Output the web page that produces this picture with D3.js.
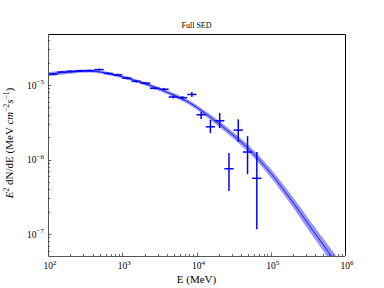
<!DOCTYPE html>
<html>
<head>
<meta charset="utf-8">
<script src="https://cdn.jsdelivr.net/npm/d3@7"></script>
<style>
  body { margin: 0; background: #fff; }
  svg { display: block; }
  text { font-family: "Liberation Serif", "DejaVu Serif", serif; fill: #000; }
</style>
</head>
<body>
<svg id="chart"></svg>
<script>
// SED points (MeV, MeV cm-2 s-1)
const binCenters = [115.5, 154, 205, 274, 365, 487, 649, 866, 1155, 1540, 2054, 2738, 3652, 4870, 6494, 8660, 11548, 15399, 20535, 27384, 36517, 48697, 64938];
const binLow = [100, 133.4, 177.8, 237.1, 316.2, 421.7, 562.3, 749.9, 1000, 1334, 1778, 2371, 3162, 4217, 5623, 7499, 10000, 13335, 17783, 23714, 31623, 42170, 56234];
const binHigh = [133.4, 177.8, 237.1, 316.2, 421.7, 562.3, 749.9, 1000, 1334, 1778, 2371, 3162, 4217, 5623, 7499, 10000, 13335, 17783, 23714, 31623, 42170, 56234, 74989];
const flux = [1.40e-5, 1.49e-5, 1.52e-5, 1.55e-5, 1.56e-5, 1.61e-5, 1.43e-5, 1.37e-5, 1.24e-5, 1.12e-5, 1.06e-5, 9.05e-6, 8.78e-6, 6.91e-6, 6.77e-6, 7.47e-6, 3.99e-6, 2.75e-6, 3.31e-6, 7.52e-7, 2.48e-6, 1.26e-6, 5.60e-7];
const fluxLow = [1.357e-5, 1.445e-5, 1.474e-5, 1.503e-5, 1.512e-5, 1.561e-5, 1.378e-5, 1.320e-5, 1.195e-5, 1.079e-5, 1.021e-5, 8.72e-6, 8.46e-6, 6.60e-6, 6.46e-6, 6.91e-6, 3.49e-6, 2.26e-6, 2.64e-6, 3.78e-7, 1.726e-6, 6.34e-7, 1.161e-7];
const fluxHigh = [1.444e-5, 1.537e-5, 1.568e-5, 1.599e-5, 1.609e-5, 1.661e-5, 1.484e-5, 1.422e-5, 1.287e-5, 1.163e-5, 1.100e-5, 9.39e-6, 9.11e-6, 7.24e-6, 7.09e-6, 8.07e-6, 4.38e-6, 3.39e-6, 4.21e-6, 1.227e-6, 3.46e-6, 2.06e-6, 1.265e-6];

// fitted model and its band
const modelEnergy = [100, 197.8, 368, 684, 1272, 2364, 4397, 8176, 15200, 28260, 52540, 97700, 181700, 337800, 628100, 1000000];
const modelFlux = [1.394e-5, 1.501e-5, 1.539e-5, 1.411e-5, 1.208e-5, 9.88e-6, 7.70e-6, 5.74e-6, 3.72e-6, 2.30e-6, 1.334e-6, 6.74e-7, 3.01e-7, 1.262e-7, 5.38e-8, 2.80e-8];
const modelLow = [1.310e-5, 1.420e-5, 1.469e-5, 1.347e-5, 1.153e-5, 9.37e-6, 7.24e-6, 5.34e-6, 3.42e-6, 2.09e-6, 1.193e-6, 5.90e-7, 2.58e-7, 1.054e-7, 4.40e-8, 2.24e-8];
const modelHigh = [1.483e-5, 1.587e-5, 1.612e-5, 1.478e-5, 1.266e-5, 1.041e-5, 8.19e-6, 6.16e-6, 4.04e-6, 2.53e-6, 1.491e-6, 7.70e-7, 3.52e-7, 1.511e-7, 6.58e-8, 3.50e-8];

const xTickExps = [2, 3, 4, 5, 6];
const yTickExps = [-7, -6, -5];

const width = 384, height = 288;
const marginLeft = 48, marginRight = 39, marginTop = 34, marginBottom = 32;
const blue = "#0000ff";

const svg = d3.select("#chart").attr("width", width).attr("height", height);

const x = d3.scaleLog().domain([100, 1e6]).range([marginLeft, width - marginRight]);
const y = d3.scaleLog().domain([5.07e-8, 4.84e-5]).range([height - marginBottom, marginTop]);

svg.append("defs").append("clipPath").attr("id", "plot")
  .append("rect")
  .attr("x", marginLeft).attr("y", marginTop)
  .attr("width", width - marginLeft - marginRight)
  .attr("height", height - marginTop - marginBottom);

const model = modelEnergy.map((e, i) => ({ e, f: modelFlux[i], lo: modelLow[i], hi: modelHigh[i] }));
const points = binCenters.map((e, i) => ({ e, lo: binLow[i], hi: binHigh[i], f: flux[i], flo: fluxLow[i], fhi: fluxHigh[i] }));

const g = svg.append("g").attr("clip-path", "url(#plot)");

g.append("path")
  .datum(model)
  .attr("fill", blue)
  .attr("fill-opacity", 0.42)
  .attr("d", d3.area().curve(d3.curveMonotoneX)
    .x(d => x(d.e)).y0(d => y(d.lo)).y1(d => y(d.hi)));

g.append("path")
  .datum(model)
  .attr("fill", "none")
  .attr("stroke", "#0000cc")
  .attr("stroke-width", 0.8)
  .attr("d", d3.line().curve(d3.curveMonotoneX).x(d => x(d.e)).y(d => y(d.f)));

// error bars
const bars = g.append("g").attr("stroke", blue).attr("stroke-width", 1.5);
bars.selectAll(".h").data(points).join("line")
  .attr("x1", d => x(d.lo)).attr("x2", d => x(d.hi))
  .attr("y1", d => y(d.f)).attr("y2", d => y(d.f));
bars.selectAll(".v").data(points).join("line")
  .attr("x1", d => x(d.e)).attr("x2", d => x(d.e))
  .attr("y1", d => y(d.flo)).attr("y2", d => y(d.fhi));

// frame
const x0 = marginLeft, x1 = width - marginRight, y0 = height - marginBottom, y1 = marginTop;
svg.append("path")
  .attr("fill", "none").attr("stroke", "#000").attr("stroke-width", 1)
  .attr("d", `M${x0},${y1 + 0.5}H${x1 + 0.5}V${y0}`);
svg.append("path")
  .attr("fill", "none").attr("stroke", "#555").attr("stroke-width", 1)
  .attr("d", `M${x0 + 0.5},${y1}V${y0 + 0.5}H${x1}`);

// minor ticks
function minorValues(scale) {
  const [a, b] = scale.domain();
  const out = [];
  for (let d = Math.floor(Math.log10(a)); d <= Math.ceil(Math.log10(b)); d++) {
    for (let m = 2; m <= 9; m++) {
      const v = m * Math.pow(10, d);
      if (v > a && v < b) out.push(v);
    }
  }
  return out;
}

const ticks = svg.append("g").attr("stroke", "#444").attr("stroke-width", 0.8);
ticks.selectAll(".xmin").data(minorValues(x)).join("line")
  .attr("x1", d => Math.round(x(d)) + 0.5).attr("x2", d => Math.round(x(d)) + 0.5)
  .attr("y1", y0).attr("y2", y0 - 2);
ticks.selectAll(".xmaj").data(xTickExps).join("line")
  .attr("x1", d => Math.round(x(Math.pow(10, d))) + 0.5).attr("x2", d => Math.round(x(Math.pow(10, d))) + 0.5)
  .attr("y1", y0).attr("y2", y0 - 3.5);
ticks.selectAll(".ymin").data(minorValues(y)).join("line")
  .attr("y1", d => Math.round(y(d)) + 0.5).attr("y2", d => Math.round(y(d)) + 0.5)
  .attr("x1", x0).attr("x2", x0 + 2);
ticks.selectAll(".ymaj").data(yTickExps).join("line")
  .attr("y1", d => Math.round(y(Math.pow(10, d))) + 0.5).attr("y2", d => Math.round(y(Math.pow(10, d))) + 0.5)
  .attr("x1", x0).attr("x2", x0 + 3.5);

// tick labels
function powerLabel(sel, exp) {
  sel.append("tspan").text("10");
  sel.append("tspan").attr("dy", -4.5).attr("font-size", 7).text(exp < 0 ? "\u2212" + (-exp) : exp);
}

svg.append("g").selectAll("text").data(xTickExps).join("text")
  .attr("x", d => x(Math.pow(10, d)) + 2)
  .attr("y", y0 + 13)
  .attr("text-anchor", "middle")
  .attr("font-size", 9.5)
  .each(function (d) { powerLabel(d3.select(this), d); });

svg.append("g").selectAll("text").data(yTickExps).join("text")
  .attr("x", x0 - 4)
  .attr("y", d => y(Math.pow(10, d)) + 3.5)
  .attr("text-anchor", "end")
  .attr("font-size", 9.5)
  .each(function (d) { powerLabel(d3.select(this), d); });

// title and axis labels
svg.append("text")
  .attr("x", (x0 + x1) / 2).attr("y", 28)
  .attr("text-anchor", "middle").attr("font-size", 8)
  .text("Full SED");

svg.append("text")
  .attr("x", (x0 + x1) / 2).attr("y", 283)
  .attr("text-anchor", "middle").attr("font-size", 11)
  .text("E (MeV)");

const yl = svg.append("text")
  .attr("transform", `translate(13,${(y0 + y1) / 2 - 2}) rotate(-90)`)
  .attr("text-anchor", "middle").attr("font-size", 11);
yl.append("tspan").attr("font-style", "italic").text("E");
yl.append("tspan").attr("dy", -4).attr("font-size", 7.5).text("2");
yl.append("tspan").attr("dy", 4).text(" dN/dE (MeV ");
yl.append("tspan").attr("font-style", "italic").text("cm");
yl.append("tspan").attr("dy", -4).attr("font-size", 7.5).text("\u22122");
yl.append("tspan").attr("dy", 4).attr("font-style", "italic").text("s");
yl.append("tspan").attr("dy", -4).attr("font-size", 7.5).text("\u22121");
yl.append("tspan").attr("dy", 4).text(")");
</script>
</body>
</html>
